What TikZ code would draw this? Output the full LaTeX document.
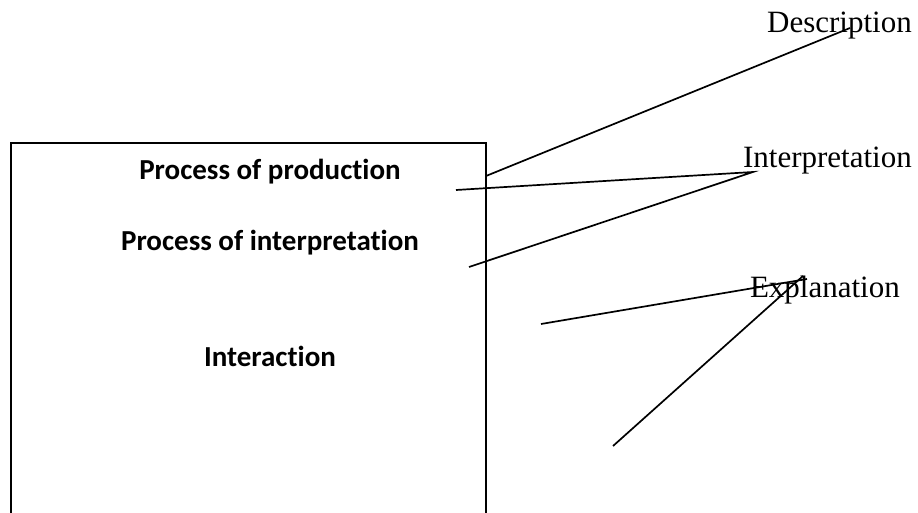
\documentclass[tikz,border=0pt]{standalone}
\usepackage{fontspec}
\setmainfont{Liberation Serif}
\newfontfamily\boldsans[Ligatures=CommonOff]{Carlito}
\begin{document}
\begin{tikzpicture}[x=1pt,y=-1pt,
  line/.style={line width=1.7pt},
  boxtext/.style={font=\boldsans\bfseries\fontsize{29}{34}\selectfont, inner sep=0pt},
  lbl/.style={font=\fontsize{31}{36}\selectfont, inner sep=0pt}]
\useasboundingbox (0,0) rectangle (918,513);
\clip (0,0) rectangle (918,513);
% box (open bottom, extends beyond the picture)
\draw[line] (11,530) -- (11,143) -- (486,143) -- (486,530);
\node[boxtext] (prod) at (270,172) {Process of production};
\node[boxtext] (interp) at (270,243) {Process of interpretation};
\node[boxtext] (inter) at (270,356) {Interaction};
\node[lbl, anchor=east] (desc) at (912,26) {Description};
\node[lbl, anchor=east] (interl) at (912,161) {Interpretation};
\node[lbl, anchor=east] (expl) at (900,290) {Explanation};
\coordinate (d1) at (486,176);
\coordinate (d2) at (850,28);
\coordinate (i1) at (456,190);
\coordinate (i2) at (753,172);
\coordinate (i3) at (469,267);
\coordinate (e1) at (541,324);
\coordinate (e2) at (807,279);
\coordinate (e3) at (613,446);
\coordinate (e4) at (803,276);
\draw[line] (d1) -- (d2);
\draw[line] (i1) -- (i2) -- (i3);
\draw[line] (e1) -- (e2);
\draw[line] (e3) -- (e4);
\end{tikzpicture}
\end{document}
